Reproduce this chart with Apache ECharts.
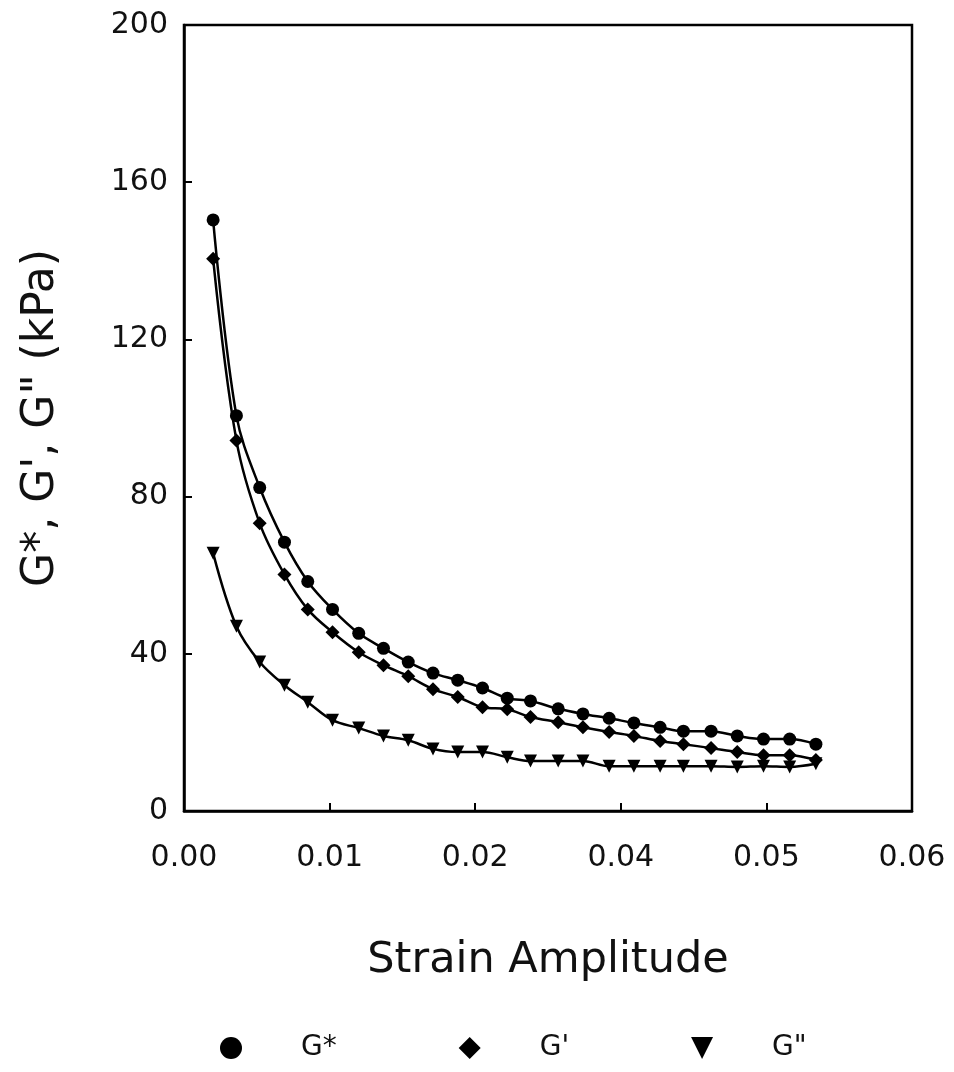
<!DOCTYPE html>
<html>
<head>
<meta charset="utf-8">
<script src="https://cdn.jsdelivr.net/npm/echarts@6/dist/echarts.min.js"></script>
<style>
  html, body { margin: 0; padding: 0; background: #fff; }
  #chart { width: 954px; height: 1072px; }
</style>
</head>
<body>
<div id="chart"></div>
<script>
// strain positions along the axis (tick spacing 0.01)
var strain = [0.0020, 0.0036, 0.0052, 0.0069, 0.0085, 0.0102, 0.0120, 0.0137, 0.0154, 0.0171,
              0.0188, 0.0205, 0.0222, 0.0238, 0.0257, 0.0274, 0.0292, 0.0309, 0.0327, 0.0343,
              0.0362, 0.0380, 0.0398, 0.0416, 0.0434];
var gStar = [150.4, 100.6, 82.3, 68.4, 58.4, 51.3, 45.2, 41.4, 37.9, 35.1,
             33.3, 31.3, 28.7, 28.0, 26.0, 24.7, 23.6, 22.4, 21.3, 20.3,
             20.3, 19.1, 18.3, 18.3, 17.0];
var gPrime = [140.5, 94.3, 73.2, 60.2, 51.3, 45.5, 40.4, 37.1, 34.3, 31.0,
              29.0, 26.4, 25.9, 23.9, 22.6, 21.3, 20.1, 19.1, 17.8, 17.0,
              16.0, 15.0, 14.2, 14.2, 13.0];
var gDouble = [65.6, 47.0, 37.9, 32.0, 27.7, 23.1, 21.1, 19.1, 18.0, 15.8,
               15.0, 15.0, 13.7, 12.7, 12.7, 12.7, 11.4, 11.4, 11.4, 11.4,
               11.4, 11.2, 11.4, 11.2, 12.0];
// tick labels as printed on the original axis
var xTickLabels = ['0.00', '0.01', '0.02', '0.04', '0.05', '0.06'];
var seriesNames = ['G*', "G'", 'G"'];

function pairs(xs, ys) {
  return xs.map(function (x, i) { return [x, ys[i]]; });
}

var font = 'DejaVu Sans';
var myChart = echarts.init(document.getElementById('chart'));
var triDown = 'path://M0,0 L10,0 L5,10 Z';

function curve(name, ys, sym, size) {
  return {
    name: name, type: 'line', smooth: 0.35,
    data: pairs(strain, ys),
    symbol: sym, symbolSize: size,
    itemStyle: { color: '#000' },
    lineStyle: { color: '#000', width: 2.5 }
  };
}

var option = {
  backgroundColor: '#fff',
  animation: false,
  grid: {
    left: 184, right: 42, top: 25, bottom: 261,
    show: true, borderColor: '#000', borderWidth: 2.5
  },
  legend: {
    left: 215, top: 1029,
    itemWidth: 22, itemHeight: 22, itemGap: 122,
    textStyle: { fontFamily: font, fontSize: 28, color: '#111', padding: [0, 0, 0, 54] },
    data: [
      { name: seriesNames[0], icon: 'circle' },
      { name: seriesNames[1], icon: 'diamond' },
      { name: seriesNames[2], icon: triDown }
    ]
  },
  xAxis: {
    type: 'value',
    min: 0, max: 0.05, interval: 0.01,
    name: 'Strain Amplitude',
    nameLocation: 'middle',
    nameGap: 128,
    nameTextStyle: { fontFamily: font, fontSize: 43, color: '#111' },
    axisLine: { lineStyle: { color: '#000', width: 2.5 } },
    axisTick: { inside: true, length: 8, lineStyle: { color: '#000', width: 2 } },
    axisLabel: {
      margin: 32, fontFamily: font, fontSize: 30, color: '#111',
      formatter: function (v) { return xTickLabels[Math.round(v / 0.01)]; }
    },
    splitLine: { show: false }
  },
  yAxis: {
    type: 'value',
    min: 0, max: 200, interval: 40,
    name: 'G*, G\', G" (kPa)',
    nameLocation: 'middle',
    nameGap: 120,
    nameTextStyle: { fontFamily: font, fontSize: 44, color: '#111' },
    axisLine: { lineStyle: { color: '#000', width: 2.5 } },
    axisTick: { inside: true, length: 8, lineStyle: { color: '#000', width: 2 } },
    axisLabel: { margin: 16, fontFamily: font, fontSize: 30, color: '#111' },
    splitLine: { show: false }
  },
  series: [
    curve(seriesNames[0], gStar, 'circle', 13),
    curve(seriesNames[1], gPrime, 'diamond', 14),
    curve(seriesNames[2], gDouble, triDown, 13)
  ]
};
myChart.setOption(option);
</script>
</body>
</html>
